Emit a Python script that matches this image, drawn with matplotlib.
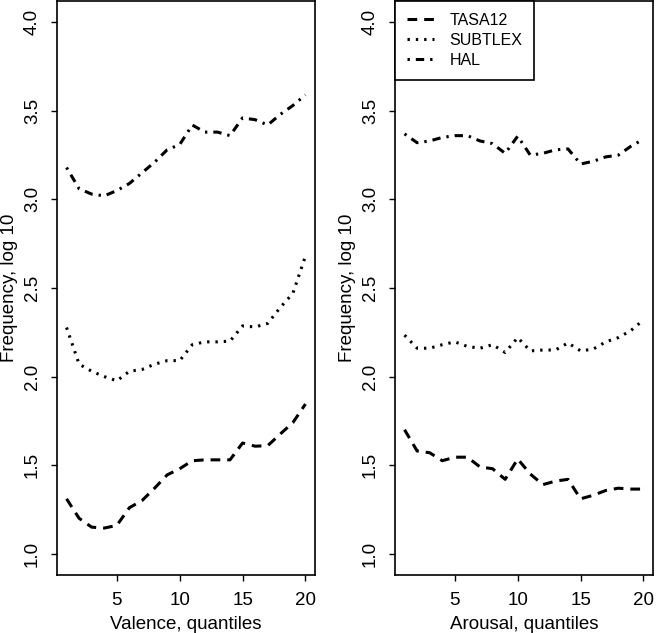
import matplotlib

matplotlib.use("Agg")
import matplotlib.pyplot as plt

plt.rcParams["font.family"] = ["Liberation Sans", "DejaVu Sans"]
plt.rcParams["lines.scale_dashes"] = False

quantiles = list(range(1, 21))

# Valence panel
val_tasa = [1.31, 1.20, 1.15, 1.145, 1.16, 1.26, 1.30, 1.37, 1.445, 1.48,
            1.525, 1.53, 1.53, 1.53, 1.625, 1.607, 1.61, 1.676, 1.74, 1.845]
val_subtlex = [2.277, 2.07, 2.03, 2.00, 1.976, 2.03, 2.04, 2.07, 2.09, 2.09,
               2.18, 2.196, 2.196, 2.20, 2.286, 2.28, 2.30, 2.39, 2.47, 2.68]
val_hal = [3.18, 3.06, 3.03, 3.02, 3.05, 3.09, 3.15, 3.21, 3.28, 3.31,
           3.42, 3.38, 3.38, 3.36, 3.46, 3.45, 3.42, 3.48, 3.53, 3.59]

# Arousal panel
aro_tasa = [1.70, 1.58, 1.57, 1.525, 1.545, 1.545, 1.49, 1.48, 1.42, 1.535,
            1.45, 1.39, 1.41, 1.42, 1.31, 1.33, 1.357, 1.37, 1.365, 1.365]
aro_subtlex = [2.234, 2.16, 2.16, 2.18, 2.196, 2.17, 2.16, 2.18, 2.136, 2.22,
               2.145, 2.15, 2.15, 2.19, 2.145, 2.155, 2.196, 2.22, 2.26, 2.32]
aro_hal = [3.37, 3.32, 3.33, 3.35, 3.36, 3.36, 3.33, 3.315, 3.26, 3.357,
           3.25, 3.26, 3.28, 3.285, 3.20, 3.215, 3.24, 3.25, 3.30, 3.34]

series_names = ["TASA12", "SUBTLEX", "HAL"]
x_ticks = [5, 10, 15, 20]
y_ticks = [1.0, 1.5, 2.0, 2.5, 3.0, 3.5, 4.0]

# R-style lty: dashed, dotted, dotdash
styles = {
    "TASA12": (0, (7, 5)),
    "SUBTLEX": (0, (1.7, 4.3)),
    "HAL": (0, (1.7, 4.3, 6, 4.3)),
}

fig = plt.figure(figsize=(6.56, 6.33), dpi=100)
ax1 = fig.add_axes([57 / 656, 58 / 633, 258 / 656, 574 / 633])
ax2 = fig.add_axes([395 / 656, 58 / 633, 258 / 656, 574 / 633])


def draw_panel(ax, data, xlabel):
    for name, ys in zip(series_names, data):
        ax.plot(quantiles, ys, color="black", linewidth=2.2,
                linestyle=styles[name], label=name, dash_capstyle="butt")
    ax.set_xlim(1 - 0.76, 20 + 0.76)
    ax.set_ylim(1 - 0.12, 4 + 0.12)
    ax.set_xticks(x_ticks)
    ax.set_yticks(y_ticks)
    ax.set_yticklabels([f"{v:.1f}" for v in y_ticks], rotation=90, va="center")
    ax.tick_params(direction="out", length=4.5, width=1, labelsize=13.5)
    ax.tick_params(axis="x", pad=8)
    ax.tick_params(axis="y", pad=7)
    for s in ax.spines.values():
        s.set_linewidth(1.2)
    ax.set_xlabel(xlabel, fontsize=13.5, labelpad=5)
    ax.set_ylabel("Frequency, log 10", fontsize=13.5, labelpad=4)


draw_panel(ax1, [val_tasa, val_subtlex, val_hal], "Valence, quantiles")
draw_panel(ax2, [aro_tasa, aro_subtlex, aro_hal], "Arousal, quantiles")

leg = ax2.legend(loc="upper left", borderaxespad=0, fancybox=False,
                 framealpha=1, edgecolor="black", fontsize=11.5,
                 handlelength=1.7, handletextpad=0.95, labelspacing=0.3,
                 borderpad=0.75)
leg.get_frame().set_linewidth(1.2)

fig.savefig("out.png", dpi=100)
